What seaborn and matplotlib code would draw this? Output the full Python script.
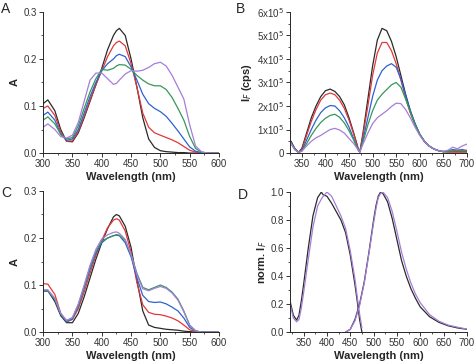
import matplotlib
matplotlib.use("Agg")
import matplotlib.pyplot as plt
import seaborn as sns
from matplotlib.ticker import MultipleLocator, FuncFormatter

# ---- absorption (panels A and C) ----
abs_wl = [300, 308, 320, 330, 340, 350, 360, 370, 380, 390, 400, 410, 420, 425, 430, 440,
          450, 460, 470, 480, 490, 500, 510, 520, 530, 540, 550, 560, 570, 580, 590, 600]

a_black = [0.105, 0.113, 0.09, 0.05, 0.025, 0.024, 0.043, 0.075, 0.11, 0.145, 0.18, 0.22, 0.25, 0.26, 0.265, 0.25,
           0.2, 0.14, 0.075, 0.03, 0.012, 0.005, 0.003, 0.002, 0.001, 0.001, 0, 0, 0, 0, 0, 0]
a_red = [0.095, 0.1, 0.08, 0.045, 0.025, 0.026, 0.046, 0.078, 0.113, 0.145, 0.175, 0.205, 0.228, 0.235, 0.238, 0.228,
         0.19, 0.14, 0.085, 0.055, 0.043, 0.038, 0.033, 0.028, 0.022, 0.014, 0.006, 0.002, 0.0005, 0, 0, 0]
a_blue = [0.08, 0.087, 0.07, 0.04, 0.027, 0.03, 0.05, 0.085, 0.12, 0.15, 0.175, 0.19, 0.2, 0.207, 0.21, 0.205,
          0.183, 0.155, 0.125, 0.105, 0.095, 0.088, 0.078, 0.063, 0.047, 0.03, 0.013, 0.004, 0.001, 0, 0, 0]
a_green = [0.07, 0.077, 0.062, 0.04, 0.03, 0.033, 0.058, 0.095, 0.13, 0.158, 0.178, 0.176, 0.18, 0.185, 0.188, 0.187,
           0.178, 0.165, 0.155, 0.147, 0.143, 0.143, 0.135, 0.118, 0.095, 0.07, 0.035, 0.01, 0.002, 0, 0, 0]
a_purple = [0.055, 0.062, 0.05, 0.035, 0.032, 0.038, 0.065, 0.11, 0.155, 0.17, 0.17, 0.158, 0.146, 0.148, 0.155, 0.168,
            0.175, 0.174, 0.176, 0.182, 0.19, 0.193, 0.185, 0.165, 0.14, 0.115, 0.06, 0.015, 0.003, 0, 0, 0]

c_black = [0.088, 0.088, 0.065, 0.035, 0.02, 0.02, 0.04, 0.075, 0.115, 0.155, 0.19, 0.22, 0.245, 0.25, 0.247, 0.225,
           0.18, 0.11, 0.045, 0.015, 0.01, 0.008, 0.006, 0.005, 0.004, 0.002, 0.001, 0, 0, 0, 0, 0]
c_red = [0.103, 0.102, 0.08, 0.04, 0.022, 0.027, 0.05, 0.085, 0.125, 0.163, 0.195, 0.222, 0.238, 0.241, 0.238, 0.215,
         0.17, 0.105, 0.058, 0.042, 0.038, 0.037, 0.034, 0.03, 0.024, 0.015, 0.005, 0.001, 0, 0, 0, 0]
c_blue = [0.087, 0.087, 0.07, 0.038, 0.022, 0.028, 0.055, 0.093, 0.133, 0.168, 0.19, 0.2, 0.205, 0.206, 0.205, 0.19,
          0.16, 0.115, 0.078, 0.065, 0.063, 0.064, 0.06, 0.053, 0.045, 0.03, 0.01, 0.002, 0, 0, 0, 0]
c_green = [0.088, 0.088, 0.07, 0.038, 0.024, 0.03, 0.058, 0.097, 0.138, 0.172, 0.193, 0.2, 0.205, 0.207, 0.206, 0.195,
           0.165, 0.125, 0.095, 0.09, 0.095, 0.1, 0.095, 0.085, 0.07, 0.045, 0.015, 0.003, 0, 0, 0, 0]
c_purple = [0.09, 0.09, 0.072, 0.04, 0.025, 0.031, 0.06, 0.1, 0.142, 0.176, 0.198, 0.207, 0.212, 0.213, 0.21, 0.197,
            0.165, 0.122, 0.092, 0.088, 0.093, 0.097, 0.093, 0.083, 0.068, 0.043, 0.014, 0.003, 0, 0, 0, 0]

# ---- fluorescence (panel B), values in units of 1e5 cps ----
fl_wl = [327, 335, 343, 350, 360, 370, 380, 390, 400, 410, 420, 430, 440, 450, 460, 470, 473,
         480, 490, 500, 510, 520, 530, 540, 550, 560, 570, 580, 590, 600, 610, 620, 630, 640, 650,
         660, 670, 680, 690, 700]
b_black = [0.5, 0.2, 0.03, 0.2, 0.85, 1.5, 2.0, 2.4, 2.65, 2.72, 2.62, 2.4, 2.05, 1.5, 0.85, 0.15, 0.05,
           0.9, 2.3, 3.7, 4.8, 5.3, 5.2, 4.75, 4.1, 3.3, 2.5, 1.8, 1.25, 0.8, 0.5, 0.3, 0.18, 0.1, 0.06,
           0.05, 0.05, 0.05, 0.05, 0.05]
b_red = [0.45, 0.18, 0.03, 0.15, 0.75, 1.35, 1.85, 2.25, 2.48, 2.55, 2.48, 2.25, 1.9, 1.4, 0.8, 0.15, 0.05,
         0.8, 2.0, 3.3, 4.25, 4.7, 4.7, 4.35, 3.8, 3.1, 2.35, 1.7, 1.2, 0.78, 0.48, 0.3, 0.17, 0.1, 0.06,
         0.05, 0.05, 0.05, 0.05, 0.05]
b_blue = [0.45, 0.15, 0.03, 0.1, 0.55, 1.0, 1.4, 1.72, 1.92, 2.02, 2.0, 1.8, 1.5, 1.1, 0.6, 0.12, 0.05,
          0.6, 1.5, 2.4, 3.1, 3.5, 3.7, 3.8, 3.65, 3.15, 2.45, 1.8, 1.25, 0.8, 0.5, 0.3, 0.17, 0.1, 0.06,
          0.1, 0.15, 0.12, 0.15, 0.1]
b_green = [0.4, 0.15, 0.03, 0.08, 0.4, 0.75, 1.05, 1.3, 1.48, 1.6, 1.65, 1.52, 1.28, 0.95, 0.55, 0.1, 0.05,
           0.5, 1.2, 1.8, 2.25, 2.5, 2.7, 2.9, 3.0, 2.8, 2.3, 1.75, 1.2, 0.8, 0.5, 0.3, 0.17, 0.1, 0.06,
           0.08, 0.1, 0.12, 0.1, 0.12]
b_purple = [0.4, 0.15, 0.03, 0.08, 0.3, 0.5, 0.65, 0.75, 0.88, 1.0, 1.05, 0.98, 0.85, 0.62, 0.4, 0.12, 0.05,
            0.4, 0.85, 1.25, 1.5, 1.65, 1.8, 1.98, 2.12, 2.1, 1.85, 1.5, 1.1, 0.75, 0.48, 0.3, 0.17, 0.1, 0.08,
            0.12, 0.25, 0.18, 0.3, 0.38]

# ---- normalised excitation / emission (panel D) ----
exc_wl = [321, 328, 335, 340, 345, 350, 360, 370, 380, 388, 392, 400, 410, 420, 430, 440, 450, 460, 465, 470, 475]
d_exc_black = [0.22, 0.12, 0.086, 0.12, 0.22, 0.34, 0.6, 0.83, 0.96, 1.0, 0.98, 0.97, 0.92, 0.86, 0.8, 0.71,
               0.55, 0.34, 0.22, 0.09, 0.0]
d_exc_purple = [0.2, 0.1, 0.074, 0.09, 0.17, 0.28, 0.52, 0.75, 0.9, 0.95, 0.97, 1.0, 0.97, 0.9, 0.83, 0.74,
                0.58, 0.38, 0.25, 0.13, 0.03]
em_wl = [440, 450, 460, 470, 480, 490, 500, 505, 510, 515, 520, 530, 540, 550, 560, 570, 580, 590, 600,
         620, 640, 660, 680, 700]
d_em_black = [0.0, 0.02, 0.09, 0.2, 0.36, 0.57, 0.8, 0.9, 0.97, 1.0, 0.99, 0.93, 0.81, 0.66, 0.51, 0.4, 0.31,
              0.24, 0.18, 0.11, 0.07, 0.045, 0.03, 0.02]
d_em_purple = [0.0, 0.02, 0.08, 0.19, 0.35, 0.56, 0.78, 0.88, 0.96, 0.99, 1.0, 0.96, 0.86, 0.72, 0.57, 0.45,
               0.35, 0.27, 0.21, 0.125, 0.078, 0.05, 0.035, 0.022]

BLACK, RED, BLUE, GREEN, PURPLE = "#2a2a2a", "#e0383a", "#2e62d0", "#35985a", "#a57ed8"

sns.set_style("ticks")
plt.rcParams["font.family"] = ["Liberation Sans", "DejaVu Sans"]
plt.rcParams["xtick.major.size"] = 3
plt.rcParams["ytick.major.size"] = 3
plt.rcParams["xtick.minor.size"] = 1.6
plt.rcParams["ytick.minor.size"] = 1.6
plt.rcParams["xtick.major.width"] = 0.7
plt.rcParams["ytick.major.width"] = 0.7
plt.rcParams["axes.linewidth"] = 0.7

fig = plt.figure(figsize=(4.74, 3.61), dpi=100)
axA = fig.add_axes([0.091, 0.576, 0.371, 0.391])
axB = fig.add_axes([0.612, 0.576, 0.373, 0.391])
axC = fig.add_axes([0.091, 0.080, 0.371, 0.391])
axD = fig.add_axes([0.612, 0.080, 0.373, 0.388])

lw = 0.9
for ax, series in [(axA, [a_black, a_red, a_blue, a_green, a_purple]),
                   (axC, [c_black, c_red, c_blue, c_green, c_purple])]:
    for ys, col in zip(series, [BLACK, RED, BLUE, GREEN, PURPLE]):
        sns.lineplot(x=abs_wl, y=ys, color=col, linewidth=lw, ax=ax)
    ax.set_xlim(300, 600)
    ax.set_ylim(0, 0.3)
    ax.xaxis.set_major_locator(MultipleLocator(50))
    ax.xaxis.set_minor_locator(MultipleLocator(25))
    ax.yaxis.set_major_locator(MultipleLocator(0.1))
    ax.yaxis.set_minor_locator(MultipleLocator(0.05))
    ax.set_ylabel("A", fontsize=8, fontweight="bold", labelpad=3)

for ys, col in zip([b_black, b_red, b_blue, b_green, b_purple], [BLACK, RED, BLUE, GREEN, PURPLE]):
    sns.lineplot(x=fl_wl, y=[v * 1e5 for v in ys], color=col, linewidth=lw, ax=axB)
axB.set_xlim(325, 700)
axB.set_ylim(0, 6e5)
axB.xaxis.set_major_locator(MultipleLocator(50))
axB.xaxis.set_minor_locator(MultipleLocator(25))
axB.yaxis.set_major_locator(MultipleLocator(1e5))
axB.yaxis.set_minor_locator(MultipleLocator(0.5e5))
axB.yaxis.set_major_formatter(FuncFormatter(
    lambda v, p: "0" if v == 0 else "%dx10$^5$" % round(v / 1e5)))
axB.set_ylabel("I$_{\\mathit{F}}$ (cps)", fontsize=8, fontweight="bold", labelpad=2)

sns.lineplot(x=exc_wl, y=d_exc_black, color=BLACK, linewidth=lw, ax=axD)
sns.lineplot(x=exc_wl, y=d_exc_purple, color=PURPLE, linewidth=lw, ax=axD)
sns.lineplot(x=em_wl, y=d_em_black, color=BLACK, linewidth=lw, ax=axD)
sns.lineplot(x=em_wl, y=d_em_purple, color=PURPLE, linewidth=lw, ax=axD)
axD.set_xlim(321, 700)
axD.set_ylim(0, 1.0)
axD.xaxis.set_major_locator(MultipleLocator(50))
axD.xaxis.set_minor_locator(MultipleLocator(25))
axD.yaxis.set_major_locator(MultipleLocator(0.2))
axD.yaxis.set_minor_locator(MultipleLocator(0.1))
axD.set_ylabel("norm. I$_{\\mathit{F}}$", fontsize=8, fontweight="bold", labelpad=1)

for ax in (axA, axB, axC, axD):
    sns.despine(ax=ax)
    ax.set_xlabel("Wavelength (nm)", fontsize=8, fontweight="bold", labelpad=2)
    ax.tick_params(labelsize=7, pad=1.5, colors="#333333", which="both", direction="out")
    ax.tick_params(which="minor", width=0.6)

for lbl, x, y in [("A", 0.002, 0.995), ("B", 0.498, 0.995), ("C", 0.002, 0.485), ("D", 0.502, 0.478)]:
    fig.text(x, y, lbl, fontsize=10, va="top", ha="left")

fig.savefig("out.png", dpi=100)
